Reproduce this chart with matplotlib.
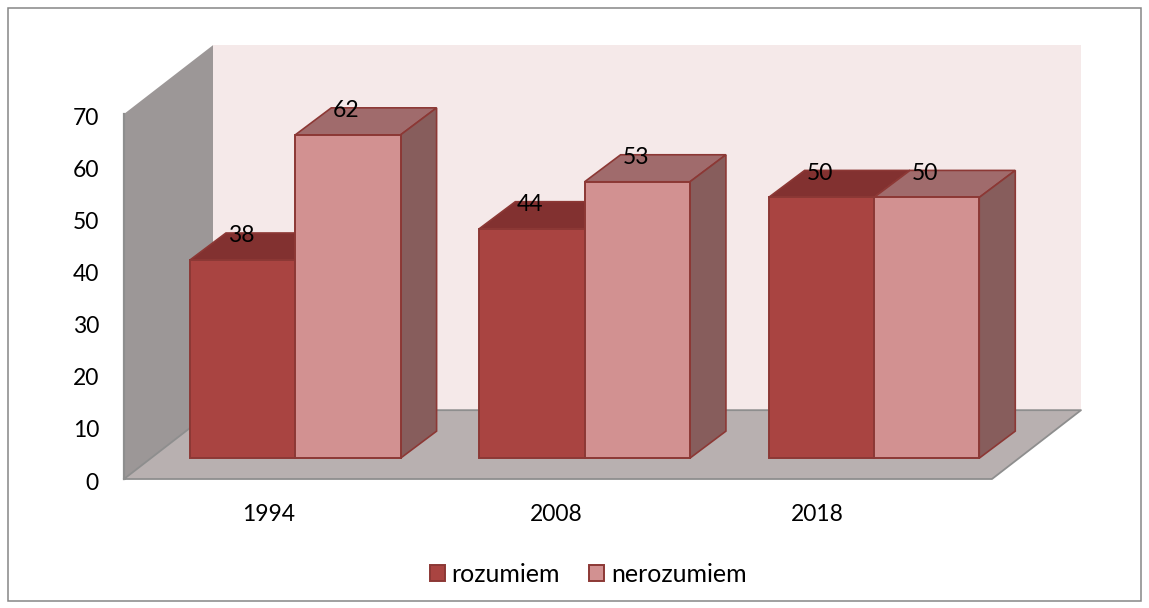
import matplotlib
matplotlib.use("Agg")
import numpy as np
import matplotlib.pyplot as plt
from matplotlib.patches import Rectangle
from matplotlib.transforms import ScaledTranslation

plt.rcParams['font.family'] = ['Lato', 'DejaVu Sans']

years = ["1994", "2008", "2018"]
rozumiem = [38, 44, 50]
nerozumiem = [62, 53, 50]
year_ticks = [0.5, 1.493, 2.395]
y_ticks = [0, 10, 20, 30, 40, 50, 60, 70]

# 3d look, all in data units
wall_dx, wall_dy = 0.3076, 13.2
wall_top = 70
box_dx, box_dy = 0.1244, 5.18
lift = 4.0
bar_w = 0.364
shift = 0.092

W, H = 1149, 608
fig = plt.figure(figsize=(W / 100, H / 100), dpi=100)
ax = fig.add_axes([124 / W, 1 - 479 / H, 868 / W, 365 / H])
ax.set_xlim(0, 3)
ax.set_ylim(0, 70)
ax.patch.set_visible(False)

fig.add_artist(Rectangle((7.5 / W, 1 - 600.5 / H), 1133.5 / W, 592.5 / H, transform=fig.transFigure,
                         fill=False, ec="#868686", lw=1.1))

GRID = "#8e8e8e"
# back wall
ax.fill([wall_dx, 3 + wall_dx, 3 + wall_dx, wall_dx],
        [wall_dy, wall_dy, wall_top + wall_dy, wall_top + wall_dy],
        fc="#f5e9e9", ec="none", clip_on=False, zorder=1)
# side wall
ax.fill([0, wall_dx, wall_dx, 0], [0, wall_dy, wall_top + wall_dy, wall_top],
        fc="#9c9797", ec="none", clip_on=False, zorder=2)
ax.plot([0, 0], [0, wall_top], color=GRID, lw=1.6, clip_on=False, zorder=2.1)
# floor
ax.fill([0, wall_dx, 3 + wall_dx, 3], [0, wall_dy, wall_dy, 0],
        fc="#b8b0b0", ec="none", clip_on=False, zorder=2)
ax.plot([0, wall_dx, 3 + wall_dx, 3, 0], [0, wall_dy, wall_dy, 0, 0], color=GRID, lw=1.3,
        clip_on=False, zorder=2.1)


def draw_bar(x, v, front, top, side, label, z):
    edge = "#8c3835"
    b = ax.bar(x, v, bar_w, bottom=lift, align="edge", color=front, edgecolor=edge, lw=1.4,
               clip_on=False, zorder=z + 0.2, label=label)
    ax.fill([x, x + box_dx, x + bar_w + box_dx, x + bar_w],
            [lift + v, lift + v + box_dy, lift + v + box_dy, lift + v],
            fc=top, ec=edge, lw=1.2, clip_on=False, zorder=z)
    ax.fill([x + bar_w, x + bar_w + box_dx, x + bar_w + box_dx, x + bar_w],
            [lift, lift + box_dy, lift + v + box_dy, lift + v],
            fc=side, ec=edge, lw=1.2, clip_on=False, zorder=z)
    return b


handles = []
for i in range(len(years)):
    x0 = i + 0.5 + shift - bar_w
    b1 = draw_bar(x0, rozumiem[i], "#a94441", "#823130", "#6f2b2a", "rozumiem" if i == 0 else None, 3 + i)
    b2 = draw_bar(x0 + bar_w, nerozumiem[i], "#d29191", "#a06b6c", "#875d5c",
                  "nerozumiem" if i == 0 else None, 3.5 + i)
    if i == 0:
        handles = [b1, b2]
    for x, v in [(x0, rozumiem[i]), (x0 + bar_w, nerozumiem[i])]:
        ax.annotate(str(v), (x + bar_w / 2, v + lift + box_dy), xytext=(-1.2, -2), textcoords="offset points",
                    ha="center", va="center", fontsize=16.5, color="black", zorder=10,
                    annotation_clip=False)

for s in ax.spines.values():
    s.set_visible(False)
ax.set_yticks(y_ticks)
ax.set_xticks(year_ticks)
ax.set_xticklabels(years)
ax.tick_params(axis="both", length=0, labelsize=16.5, labelcolor="black")
ax.tick_params(axis="y", pad=18)
ax.tick_params(axis="x", pad=18)
for lab in ax.get_yticklabels():
    lab.set_transform(lab.get_transform() + ScaledTranslation(0, -1.5 / 72, fig.dpi_scale_trans))

leg = fig.legend(handles=handles, loc="center", bbox_to_anchor=(588 / W, 1 - 574 / H), ncol=2,
                 frameon=False, fontsize=18, handlelength=0.6, handleheight=0.6,
                 handletextpad=0.28, columnspacing=1.15)

fig.savefig("out.png", dpi=100)
